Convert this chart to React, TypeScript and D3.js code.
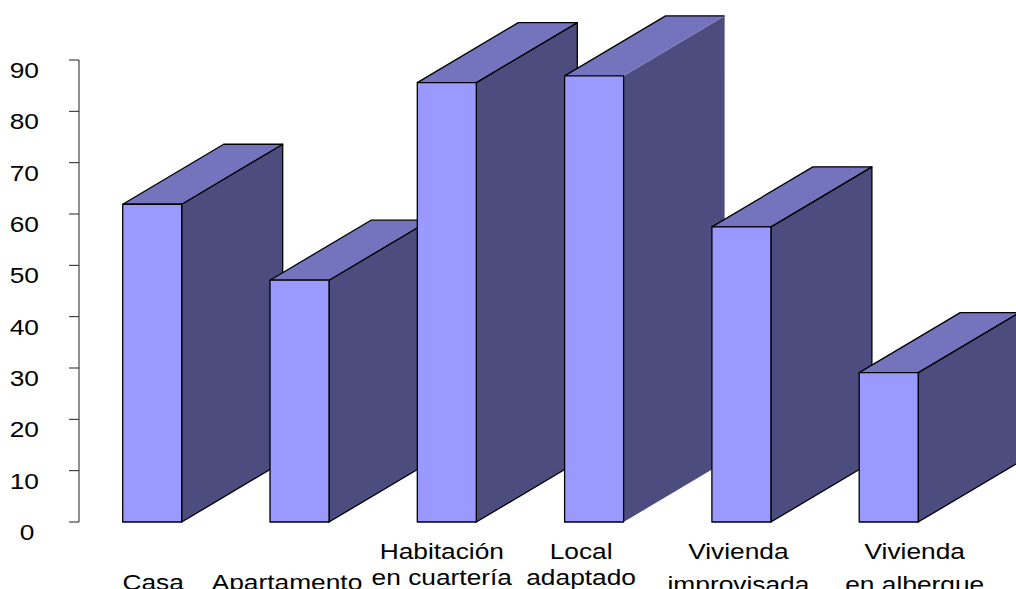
import React from "react";
import * as d3 from "d3";

// Category labels (one entry per line) and values
const categories = [
  "Casa",
  "Apartamento",
  "Habitación en cuartería",
  "Local adaptado",
  "Vivienda improvisada",
  "Vivienda en albergue",
];
const labelLines = [
  ["Casa"],
  ["Apartamento"],
  ["Habitación", "en cuartería"],
  ["Local", "adaptado"],
  ["Vivienda", "improvisada"],
  ["Vivienda", "en albergue"],
];
const values = [61.9, 47.1, 85.6, 86.9, 57.5, 29.1];
const yTicks = [0, 10, 20, 30, 40, 50, 60, 70, 80, 90];

// Layout
const W = 1016;
const H = 589;
const axisX = 79;
const yTop = 60;
const yBottom = 522;
const step = 147.3;
const frontOffset = 43.7;
const frontWidth = 59;
const depthX = 101;
const depthY = -60;
const textScaleX = 1.17;
const fontSize = 22.5;

// Per-label horizontal nudges and baselines for each text line
const labelNudge = [1, -12.5, -5, -13, -3, 26];
const labelBaselines = [[590], [590], [559, 585], [559, 585], [559, 592], [559, 592]];

const FRONT = "#9999ff";
const TOP = "#7474be";
const SIDE = "#4c4c7f";

export default function App() {
  const x = d3
    .scaleBand<string>()
    .domain(categories)
    .range([axisX, axisX + step * categories.length])
    .padding(0);
  const y = d3.scaleLinear().domain([0, 90]).range([yBottom, yTop]);

  const font = "'Liberation Sans', Arial, sans-serif";

  return (
    <svg
      width={W}
      height={H}
      style={{ position: "fixed", left: 0, top: 0, background: "#fff" }}
      fontFamily={font}
    >
      {/* value axis */}
      <g stroke="#222" strokeWidth={1}>
        <line x1={axisX} x2={axisX} y1={y(90)} y2={y(0)} />
        {yTicks.map((t) => (
          <line key={t} x1={axisX - 10} x2={axisX} y1={y(t)} y2={y(t)} />
        ))}
      </g>
      {yTicks.map((t) => (
        <text
          key={"l" + t}
          transform={`translate(${t === 0 ? 34.5 : 39},${y(t) + 18}) scale(${textScaleX},1)`}
          textAnchor="end"
          fontSize={fontSize}
          fill="#000"
        >
          {t}
        </text>
      ))}

      {/* 3D bars, drawn left to right so each front face covers the previous side */}
      {categories.map((c, i) => {
        const x0 = (x(c) as number) + frontOffset;
        const x1 = x0 + frontWidth;
        const yt = y(values[i]);
        const yb = y(0);
        const side = d3.path();
        side.moveTo(x1, yb);
        side.lineTo(x1 + depthX, yb + depthY);
        side.lineTo(x1 + depthX, yt + depthY);
        side.lineTo(x1, yt);
        side.closePath();
        const top = d3.path();
        top.moveTo(x0, yt);
        top.lineTo(x0 + depthX, yt + depthY);
        top.lineTo(x1 + depthX, yt + depthY);
        top.lineTo(x1, yt);
        top.closePath();
        const plain = c === "Local adaptado";
        return (
          <g key={c} strokeLinejoin="round">
            <path
              d={side.toString()}
              fill={SIDE}
              stroke={plain ? "none" : "#000"}
              strokeWidth={1.3}
            />
            <path d={top.toString()} fill={TOP} stroke={plain ? "none" : "#000"} strokeWidth={1.3} />
            {plain && (
              <polyline
                points={`${x0},${yt} ${x0 + depthX},${yt + depthY} ${x1 + depthX},${yt + depthY}`}
                fill="none"
                stroke="#000"
                strokeWidth={1.3}
              />
            )}
            <rect
              x={x0}
              y={yt}
              width={frontWidth}
              height={yb - yt}
              fill={FRONT}
              stroke="#000"
              strokeWidth={1.3}
            />
          </g>
        );
      })}

      {/* category labels */}
      {categories.map((c, i) => {
        const cx = (x(c) as number) + frontOffset + frontWidth / 2 + labelNudge[i];
        return labelLines[i].map((line, j) => (
          <text
            key={c + j}
            transform={`translate(${cx},${labelBaselines[i][j]}) scale(${textScaleX},1)`}
            textAnchor="middle"
            fontSize={fontSize}
            fill="#000"
          >
            {line}
          </text>
        ));
      })}
    </svg>
  );
}
